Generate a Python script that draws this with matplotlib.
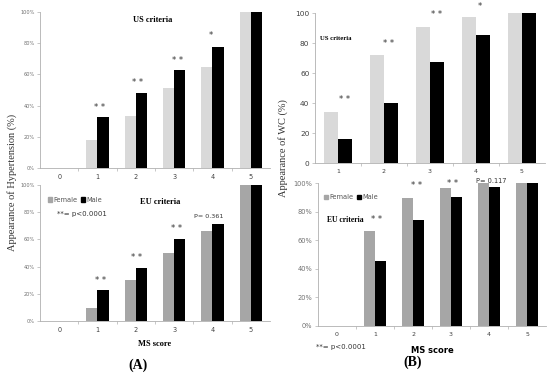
import numpy as np
import matplotlib
matplotlib.use("Agg")
import matplotlib.pyplot as plt
from matplotlib.patches import Patch

# data (percent)
scores = [0, 1, 2, 3, 4, 5]
hyp_us_female = [0, 17.7, 33.5, 51, 65, 100]
hyp_us_male = [0, 32.4, 48, 62.7, 77.4, 100]
hyp_eu_female = [0, 9.4, 29.8, 50, 66.3, 100]
hyp_eu_male = [0, 22.9, 39.2, 60.6, 71.4, 100]

wc_scores = [1, 2, 3, 4, 5]
wc_us_female = [33.8, 72, 90.9, 97.1, 100]
wc_us_male = [15.8, 40, 67.1, 85.3, 100]
wc_eu_female = [0, 66.7, 89.3, 96.6, 100, 100]
wc_eu_male = [0, 45.2, 74.2, 90, 97, 100]

LIGHT = "#d9d9d9"
MID = "#a6a6a6"
SERIF = "Liberation Serif"
W, H = 550, 376

fig = plt.figure(figsize=(5.5, 3.76), dpi=100)


def add_ax(x0, x1, ytop, ybot):
    return fig.add_axes([x0 / W, 1 - ybot / H, (x1 - x0) / W, (ybot - ytop) / H])


def style(ax, cats, pct=True, xfs=4.7, yfs=3.6):
    for s in ["top", "right"]:
        ax.spines[s].set_visible(False)
    for s in ["left", "bottom"]:
        ax.spines[s].set_color("#b0b0b0")
        ax.spines[s].set_linewidth(0.6)
    ax.set_ylim(0, 100)
    ax.set_yticks(range(0, 101, 20))
    if pct:
        ax.set_yticklabels([f"{v}%" for v in range(0, 101, 20)])
    ax.set_xlim(cats[0] - 0.5, cats[-1] + 0.5)
    ax.set_xticks(cats)
    ax.set_xticks([c + 0.5 for c in cats[:-1]], minor=True)
    ax.tick_params(axis="x", which="major", length=0, labelsize=xfs,
                   colors="#404040", pad=4)
    ax.tick_params(axis="x", which="minor", length=2, width=0.5, color="#b0b0b0")
    ax.tick_params(axis="y", length=2, width=0.5, color="#b0b0b0",
                   labelsize=yfs, labelcolor="#707070", pad=2)


def bars(ax, cats, fem, mal, fcol, w=0.29):
    x = np.array(cats)
    ax.bar(x - w / 2, fem, w, color=fcol)
    ax.bar(x + w / 2, mal, w, color="black")


def star(ax, x, y, s, fs=6):
    ax.text(x, y, s, ha="center", va="center", fontsize=fs, color="#333333",
            clip_on=False)


# (A) top: hypertension US
a1 = add_ax(40, 270, 12, 168)
bars(a1, scores, hyp_us_female, hyp_us_male, LIGHT)
style(a1, scores)
a1.text(2.45, 95, "US criteria", ha="center", va="center", fontsize=6,
        family=SERIF, weight="bold")
star(a1, 1.05, 38.5, "* *")
star(a1, 2.05, 55, "* *")
star(a1, 3.08, 69, "* *")
star(a1, 3.96, 85, "*")

# (A) bottom: hypertension EU
a2 = add_ax(40, 270, 185, 321)
bars(a2, scores, hyp_eu_female, hyp_eu_male, MID)
style(a2, scores)
a2.text(2.63, 87.5, "EU criteria", ha="center", va="center", fontsize=6,
        family=SERIF, weight="bold")
star(a2, 1.07, 30, "* *")
star(a2, 2.03, 47, "* *")
star(a2, 3.07, 68, "* *")
a2.text(3.89, 76.5, "P= 0.361", ha="center", va="center", fontsize=4.6,
        color="#333333")
a2.text(0.6, 78.7, "**= p<0.0001", ha="center", va="center", fontsize=5,
        color="#333333")
a2.set_xlabel("MS score", fontsize=6, family=SERIF, weight="bold", labelpad=5)
a2.legend(handles=[Patch(color=MID, label="Female"),
                   Patch(color="black", label="Male")],
          ncol=2, frameon=False, fontsize=4.8, handlelength=0.6,
          handleheight=0.6, handletextpad=0.2, columnspacing=0.5,
          loc="center left", bbox_to_anchor=(0.01, 0.89), labelcolor="#555555")

fig.text(12 / W, 1 - 182 / H, "Appearance of Hypertension (%)", rotation=90,
         ha="center", va="center", fontsize=7.5, family=SERIF, color="#333333")
fig.text(138 / W, 1 - 365 / H, "(A)", ha="center", va="center", fontsize=10,
         family=SERIF, weight="bold")

# (B) top: WC US
b1 = add_ax(315, 545, 13, 163)
bars(b1, wc_scores, wc_us_female, wc_us_male, LIGHT, w=0.3)
style(b1, wc_scores, pct=False, xfs=4.5, yfs=5.3)
b1.tick_params(axis="y", labelcolor="#404040")
b1.text(0.61, 82.7, "US criteria", ha="left", va="center", fontsize=4.8,
        family=SERIF, weight="bold")
star(b1, 1.15, 42, "* *")
star(b1, 2.09, 80, "* *")
star(b1, 3.15, 98.7, "* *")
star(b1, 4.09, 104, "*")

# (B) bottom: WC EU
b2 = add_ax(318, 546, 183, 326)
bars(b2, scores, wc_eu_female, wc_eu_male, MID, w=0.28)
style(b2, scores, xfs=4.5, yfs=4.8)
b2.text(-0.26, 74, "EU criteria", ha="left", va="center", fontsize=5.5,
        family=SERIF, weight="bold")
star(b2, 1.05, 74.5, "* *")
star(b2, 2.1, 98, "* *")
star(b2, 3.05, 99.5, "* *")
b2.text(4.05, 101.5, "P= 0.117", ha="center", va="center", fontsize=4.8,
        color="#333333", clip_on=False)
b2.set_xlabel("MS score", fontsize=6, weight="bold", labelpad=7)
b2.legend(handles=[Patch(color=MID, label="Female"),
                   Patch(color="black", label="Male")],
          ncol=2, frameon=False, fontsize=4.8, handlelength=0.6,
          handleheight=0.6, handletextpad=0.2, columnspacing=0.5,
          loc="center left", bbox_to_anchor=(0.0, 0.9), labelcolor="#555555")
fig.text(341 / W, 1 - 347 / H, "**= p<0.0001", ha="center", va="center",
         fontsize=5, color="#333333")

fig.text(283 / W, 1 - 148 / H, "Appearance of WC (%)", rotation=90,
         ha="center", va="center", fontsize=7.5, family=SERIF, color="#333333")
fig.text(413 / W, 1 - 362 / H, "(B)", ha="center", va="center", fontsize=10,
         family=SERIF, weight="bold")

fig.savefig("out.png", dpi=100)
